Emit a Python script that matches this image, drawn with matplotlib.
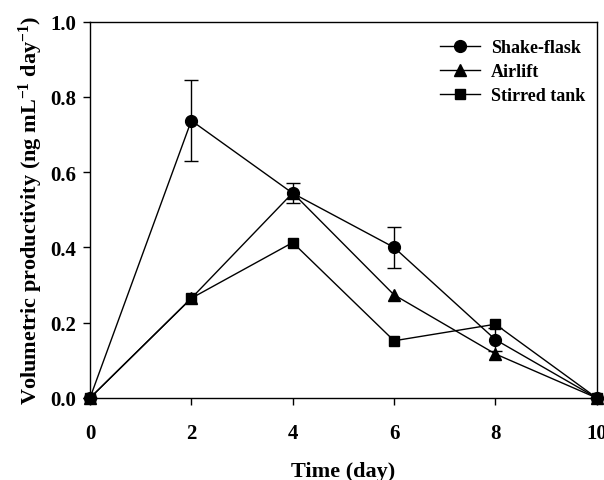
import numpy as np
import matplotlib
matplotlib.use("Agg")
import matplotlib.pyplot as plt
from matplotlib.lines import Line2D

plt.rcParams['font.family'] = 'Liberation Serif'
plt.rcParams['font.weight'] = 'bold'
plt.rcParams['mathtext.fontset'] = 'custom'
plt.rcParams['mathtext.rm'] = 'Liberation Serif:bold'
plt.rcParams['mathtext.default'] = 'rm'

days = [0, 2, 4, 6, 8, 10]
shake_flask = [0.0, 0.737, 0.544, 0.400, 0.155, 0.0]
shake_flask_err = [0.0, 0.107, 0.027, 0.054, 0.03, 0.0]
airlift = [0.0, 0.265, 0.545, 0.274, 0.117, 0.0]
stirred_tank = [0.0, 0.265, 0.413, 0.152, 0.196, 0.0]

fig = plt.figure(figsize=(6.04, 4.81), dpi=100)
ax = fig.add_axes([0.149, 0.1705, 0.839, 0.7825])

ax.errorbar(days, shake_flask, yerr=shake_flask_err, color='black', lw=1.0,
            marker='o', ms=8.5, capsize=5, elinewidth=1.0, capthick=1.0,
            clip_on=False, zorder=3)
ax.plot(days, airlift, color='black', lw=1.0, marker='^', ms=8,
        clip_on=False, zorder=3)
ax.plot(days, stirred_tank, color='black', lw=1.0, marker='s', ms=7,
        clip_on=False, zorder=3)

ax.set_xlim(0, 10)
ax.set_ylim(0, 1.0)
ax.set_xticks([0, 2, 4, 6, 8, 10])
ax.set_yticks([0.0, 0.2, 0.4, 0.6, 0.8, 1.0])
ax.set_yticklabels(['0.0', '0.2', '0.4', '0.6', '0.8', '1.0'])
ax.tick_params(direction='out', length=5, width=1, labelsize=15, pad=5)
ax.tick_params(axis='x', pad=13)
for s in ax.spines.values():
    s.set_linewidth(1.0)

ax.set_xlabel('Time (day)', fontsize=16, fontweight='bold', labelpad=13)
ax.set_ylabel('Volumetric productivity (ng mL$^{-1}$ day$^{-1}$)',
              fontsize=16, fontweight='bold', labelpad=4)

handles = [
    Line2D([], [], color='black', lw=1.0, marker='o', ms=8.5),
    Line2D([], [], color='black', lw=1.0, marker='^', ms=8),
    Line2D([], [], color='black', lw=1.0, marker='s', ms=7),
]
labels = ['Shake-flask', 'Airlift', 'Stirred tank']
ax.legend(handles, labels, loc='upper right', frameon=False,
          handlelength=2.2, handletextpad=0.6, borderaxespad=0.25,
          labelspacing=0.4, prop={'weight': 'bold', 'size': 13},
          bbox_to_anchor=(1.0, 0.985))

fig.savefig('out.png', dpi=100)
